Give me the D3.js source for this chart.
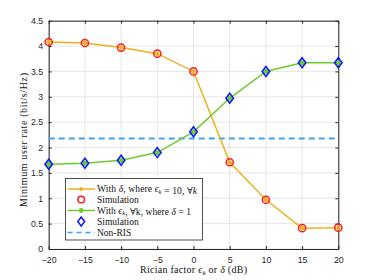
<!DOCTYPE html>
<html><head><meta charset="utf-8">
<script src="https://cdn.jsdelivr.net/npm/d3@7"></script>
<style>body{margin:0;background:#fff}svg{display:block}</style>
</head><body>
<svg id="c" width="374" height="280"></svg>
<script>
const xTicks = [-20,-15,-10,-5,0,5,10,15,20];
const yTicks = [0,0.5,1,1.5,2,2.5,3,3.5,4,4.5];
const factorDB = [-20,-15,-10,-5,0,5,10,15,20];
const rateDelta = [4.08,4.06,3.97,3.85,3.50,1.71,0.97,0.41,0.42];
const rateEps = [1.67,1.69,1.75,1.90,2.31,2.97,3.50,3.67,3.67];
const nonRIS = 2.18;
const legendLabels = ["With δ, where ϵ_k = 10, ∀k","Simulation","With ϵ_k, ∀k, where δ = 1","Simulation","Non-RIS"];

const svg = d3.select("#c");
const L=48.7,R=338.3,T=20.7,B=249;
const x = d3.scaleLinear().domain([-20,20]).range([L,R]);
const y = d3.scaleLinear().domain([0,4.5]).range([B,T]);
const orange="#EDB120", green="#6CCB2E", blue="#3AA3F2";
const serif="'Liberation Serif','DejaVu Serif',serif";
const sans="'Liberation Sans',Arial,sans-serif";

// grid
const g = svg.append("g");
g.selectAll(".gx").data(xTicks).enter().append("line")
 .attr("x1",d=>x(d)).attr("x2",d=>x(d)).attr("y1",T).attr("y2",B)
 .attr("stroke","#e6e6e6").attr("stroke-width",1);
g.selectAll(".gy").data(yTicks).enter().append("line")
 .attr("y1",d=>y(d)).attr("y2",d=>y(d)).attr("x1",L).attr("x2",R)
 .attr("stroke","#e6e6e6").attr("stroke-width",1);

// axes
const ax = d3.axisBottom(x).tickValues(xTicks).tickSizeInner(-3).tickSizeOuter(0).tickPadding(7.5);
const ay = d3.axisLeft(y).tickValues(yTicks).tickSizeInner(-3).tickSizeOuter(0).tickPadding(5.5).tickFormat(d=>String(d));
const axT = d3.axisTop(x).tickValues(xTicks).tickSizeInner(-3).tickSizeOuter(0).tickFormat("");
const ayR = d3.axisRight(y).tickValues(yTicks).tickSizeInner(-3).tickSizeOuter(0).tickFormat("");
function style(sel){sel.selectAll("path").attr("stroke","#262626");sel.selectAll("line").attr("stroke","#262626");
 sel.selectAll("text").attr("fill","#262626").attr("font-family",sans).attr("font-size",8.8);}
style(svg.append("g").attr("transform",`translate(0,${B})`).call(ax));
style(svg.append("g").attr("transform",`translate(${L},0)`).call(ay));
style(svg.append("g").attr("transform",`translate(0,${T})`).call(axT));
style(svg.append("g").attr("transform",`translate(${R},0)`).call(ayR));

// non-RIS
svg.append("line").attr("x1",x(-20)).attr("x2",x(20)).attr("y1",y(nonRIS)).attr("y2",y(nonRIS))
 .attr("stroke",blue).attr("stroke-width",2).attr("stroke-dasharray","6,4");

const line = d3.line().x((d,i)=>x(factorDB[i])).y(d=>y(d));
svg.append("path").attr("d",line(rateDelta)).attr("fill","none").attr("stroke",orange).attr("stroke-width",1.5);
svg.append("path").attr("d",line(rateEps)).attr("fill","none").attr("stroke",green).attr("stroke-width",1.5);

// markers
svg.selectAll(".om").data(rateDelta).enter().append("circle")
 .attr("cx",(d,i)=>x(factorDB[i])).attr("cy",d=>y(d)).attr("r",2.2).attr("fill",orange);
svg.selectAll(".rc").data(rateDelta).enter().append("circle")
 .attr("cx",(d,i)=>x(factorDB[i])).attr("cy",d=>y(d)).attr("r",3.6).attr("fill","none").attr("stroke","#FF1A1A").attr("stroke-width",1.5);
svg.selectAll(".gm").data(rateEps).enter().append("circle")
 .attr("cx",(d,i)=>x(factorDB[i])).attr("cy",d=>y(d)).attr("r",2.6).attr("fill",green);
const diamond = "M0,-5L3.8,0L0,5L-3.8,0Z";
svg.selectAll(".bd").data(rateEps).enter().append("path")
 .attr("transform",(d,i)=>`translate(${x(factorDB[i])},${y(d)})`).attr("d",diamond)
 .attr("fill","none").attr("stroke","#0A14FF").attr("stroke-width",1.5);

// legend
const lg = svg.append("g");
lg.append("rect").attr("x",65.5).attr("y",178.5).attr("width",137).attr("height",61.5)
 .attr("fill","#fff").attr("stroke","#262626").attr("stroke-width",0.8);
const rowsY=[189,199.5,210.5,221.5,232.5];
const rowW=[100,null,94,null,null];
const lx1=67.5,lx2=95,lm=81.2,tx=97;
lg.append("line").attr("x1",lx1).attr("x2",lx2).attr("y1",rowsY[0]).attr("y2",rowsY[0]).attr("stroke",orange).attr("stroke-width",1.5);
lg.append("circle").attr("cx",lm).attr("cy",rowsY[0]).attr("r",2).attr("fill",orange);
lg.append("circle").attr("cx",lm).attr("cy",rowsY[1]).attr("r",3.3).attr("fill","none").attr("stroke","#FF1A1A").attr("stroke-width",1.5);
lg.append("line").attr("x1",lx1).attr("x2",lx2).attr("y1",rowsY[2]).attr("y2",rowsY[2]).attr("stroke",green).attr("stroke-width",1.5);
lg.append("circle").attr("cx",lm).attr("cy",rowsY[2]).attr("r",2.4).attr("fill",green);
lg.append("path").attr("transform",`translate(${lm},${rowsY[3]})`).attr("d","M0,-4.5L3.4,0L0,4.5L-3.4,0Z").attr("fill","none").attr("stroke","#0A14FF").attr("stroke-width",1.5);
lg.append("line").attr("x1",lx1).attr("x2",lx2).attr("y1",rowsY[4]).attr("y2",rowsY[4]).attr("stroke",blue).attr("stroke-width",1.5).attr("stroke-dasharray","5,4");

function addLabel(i){
 const t = lg.append("text").attr("x",tx).attr("y",rowsY[i]+3.2).attr("font-family",serif).attr("font-size",9.5).attr("fill","#111");
 if(rowW[i]) t.attr("textLength",rowW[i]).attr("lengthAdjust","spacing");
 const s = legendLabels[i];
 const parts = s.split(/(ϵ_k|δ|k$)/);
 parts.forEach(p=>{
  if(p==="") return;
  if(p==="ϵ_k"){ t.append("tspan").attr("font-style","italic").text("ϵ"); t.append("tspan").attr("font-style","italic").attr("font-size",6.5).attr("dy",1.5).text("k"); t.append("tspan").attr("dy",-1.5).text("");}
  else if(p==="δ"||p==="k"){ t.append("tspan").attr("font-style","italic").text(p);}
  else t.append("tspan").text(p);
 });
}
legendLabels.forEach((d,i)=>addLabel(i));

// axis labels
const xl = svg.append("text").attr("x",140).attr("y",273).attr("font-family",serif).attr("font-size",10).attr("fill","#111")
 .attr("textLength",107).attr("lengthAdjust","spacing");
xl.append("tspan").text("Rician factor ");
xl.append("tspan").attr("font-style","italic").text("ϵ");
xl.append("tspan").attr("font-style","italic").attr("font-size",7).attr("dy",1.5).text("k");
xl.append("tspan").attr("dy",-1.5).text(" or ");
xl.append("tspan").attr("font-style","italic").text("δ");
xl.append("tspan").text(" (dB)");
svg.append("text").attr("transform","translate(27,207) rotate(-90)")
 .attr("font-family",serif).attr("font-size",10).attr("fill","#111")
 .attr("textLength",134).attr("lengthAdjust","spacing").text("Minimum user rate (bit/s/Hz)");
</script>
</body></html>
